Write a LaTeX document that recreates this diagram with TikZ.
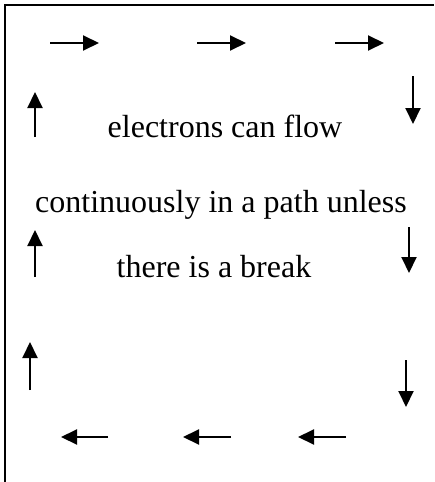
\documentclass[tikz,border=0pt]{standalone}
\usepackage{fontspec}
\setmainfont{Liberation Serif}
\usetikzlibrary{arrows.meta}
\tikzset{
  flowArrow/.style={-{Triangle[length=8pt,width=7.5pt]}, line width=1pt},
  flowText/.style={font=\fontsize{16}{19}\selectfont, anchor=base, inner sep=0pt}
}
\begin{document}
\begin{tikzpicture}[x=0.5pt,y=-0.5pt]
  \useasboundingbox (0,0) rectangle (434,482);
  \draw[line width=1.3pt] (5,482) -- (5,5) -- (434,5);
  % top row, to the right
  \foreach \xa/\xb in {50/99,197/246,335/384}
    \draw[flowArrow] (\xa,43) -- (\xb,43);
  % right side, downwards
  \foreach \x/\ya/\yb in {413/76/124,409/227/273,406/360/407}
    \draw[flowArrow] (\x,\ya) -- (\x,\yb);
  % bottom row, to the left
  \foreach \xa/\xb in {108/61,231/183,346/298}
    \draw[flowArrow] (\xa,437) -- (\xb,437);
  % left side, upwards
  \foreach \x/\ya/\yb in {35/137/92,35/277/230,30/390/342}
    \draw[flowArrow] (\x,\ya) -- (\x,\yb);
  \node[flowText] (flowA) at (225,137) {electrons can flow};
  \node[flowText] (flowB) at (221,212) {continuously in a path unless};
  \node[flowText] (flowC) at (214,277) {there is a break};
\end{tikzpicture}
\end{document}
